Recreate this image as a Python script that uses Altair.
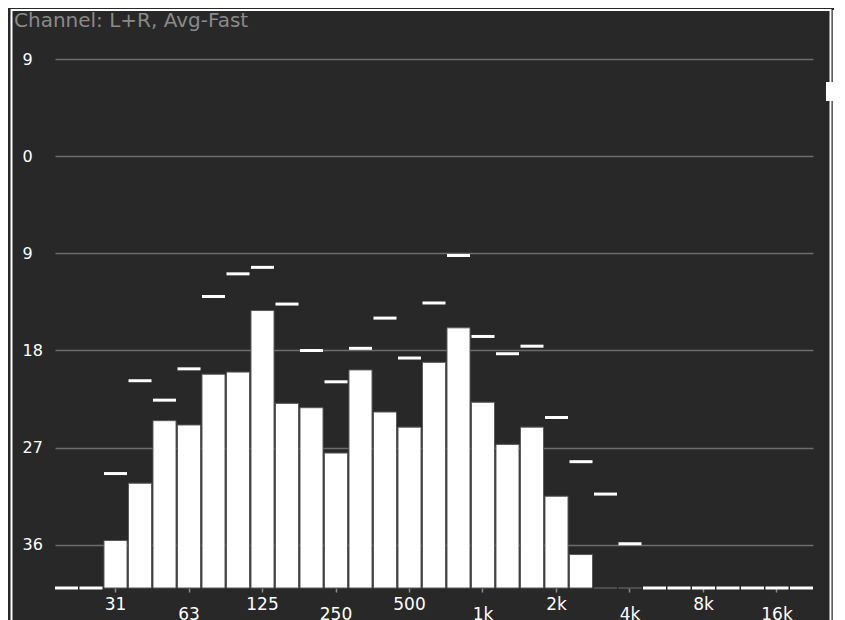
import altair as alt
import pandas as pd

title_text = "Channel: L+R, Avg-Fast"
bands = ["20", "25", "31.5", "40", "50", "63", "80", "100", "125", "160",
         "200", "250", "315", "400", "500", "630", "800", "1k", "1.25k", "1.6k",
         "2k", "2.5k", "3.15k", "4k", "5k", "6.3k", "8k", "10k", "12.5k", "16k", "20k"]
levels = [40, 40, 35.6, 30.3, 24.5, 24.9, 20.2, 20.0, 14.3, 22.9,
          23.3, 27.5, 19.8, 23.7, 25.1, 19.1, 15.9, 22.8, 26.7, 25.1,
          31.5, 36.9, 40, 40, 40, 40, 40, 40, 40, 40, 40]
peaks = [40, 40, 29.4, 20.8, 22.6, 19.7, 13.0, 10.9, 10.3, 13.7,
         18.0, 20.9, 17.8, 15.0, 18.7, 13.6, 9.2, 16.7, 18.3, 17.6,
         24.2, 28.3, 31.3, 35.9, 40, 40, 40, 40, 40, 40, 40]
tick_bands = ["31.5", "63", "125", "250", "500", "1k", "2k", "4k", "8k", "16k"]
lower_labels = ["63", "250", "1k", "4k", "16k"]
y_ticks = [-9, 0, 9, 18, 27, 36]
floor_db = 40
top_db = -9

df = pd.DataFrame({"band": bands, "level": levels, "peak": peaks})
title_df = pd.DataFrame({"t": [title_text]})

FONT = "DejaVu Sans"
BG = "#282828"

lower_js = "[" + ",".join(f"'{s}'" for s in lower_labels) + "]"
x_label_expr = (f"indexof({lower_js}, datum.value) >= 0 ? ['', datum.value] : "
                "(datum.value == '31.5' ? '31' : datum.value)")

x_enc = alt.X(
    "band:N",
    sort=bands,
    scale=alt.Scale(domain=bands, paddingInner=0.06, paddingOuter=0.0),
    axis=alt.Axis(
        title=None, values=tick_bands, labelExpr=x_label_expr, labelAngle=0,
        domain=False, grid=False, ticks=True, tickSize=4, tickColor="#8a8a8a",
        tickWidth=1.5, labelPadding=4, labelColor="white",
        labelFont=FONT, labelFontSize=17, labelLineHeight=10,
        labelBaseline="top", labelFlush=False, labelOverlap=False,
    ),
)

y_scale = alt.Scale(domain=[top_db, floor_db], reverse=True, nice=False, zero=False)
y_axis = alt.Axis(
    title=None, values=y_ticks, labelExpr="format(abs(datum.value), 'd')",
    domain=False, ticks=False, tickSize=0, labelPadding=33, labelAlign="left",
    labelBaseline="middle", labelColor="white", labelFont=FONT, labelFontSize=16,
    grid=True, gridColor="#6c6c6c", gridWidth=1.5,
)

bars = alt.Chart(df).mark_bar(
    fill="white", stroke="#5a5a5a", strokeWidth=1
).encode(
    x=x_enc,
    y=alt.Y("level:Q", scale=y_scale, axis=y_axis),
    y2=alt.Y2(datum=floor_db),
)

peaks_mark = alt.Chart(df).mark_tick(
    filled=True, color="white", opacity=1, thickness=3, size=23,
).encode(
    x=alt.X("band:N", sort=bands),
    y=alt.Y("peak:Q", scale=y_scale),
)

title_mark = alt.Chart(title_df).mark_text(
    align="left", baseline="alphabetic", font=FONT, fontSize=20, color="#8a8a8a",
).encode(
    text="t:N", x=alt.value(-41), y=alt.value(-32),
)

frame = alt.Chart(title_df).mark_rect(
    filled=False, stroke="white", strokeWidth=2
).encode(
    x=alt.value(-43.5), x2=alt.value(775.5),
    y=alt.value(-49), y2=alt.value(620),
)
right_line = alt.Chart(title_df).mark_rule(color="white", strokeWidth=1.5).encode(
    x=alt.value(778.5), y=alt.value(-49), y2=alt.value(620)
)
marker = alt.Chart(title_df).mark_rect(fill="white").encode(
    x=alt.value(771), x2=alt.value(780), y=alt.value(23), y2=alt.value(42)
)

chart = alt.layer(bars, peaks_mark, title_mark, frame, right_line, marker).properties(
    width=758,
    height=529,
    background=BG,
    padding={"left": 47, "top": 51, "right": 21, "bottom": 40},
    autosize=alt.AutoSizeParams(type="none"),
).configure_view(stroke=None, fill=BG)

chart.save("out.html", embed_options={"renderer": "svg", "actions": False})
